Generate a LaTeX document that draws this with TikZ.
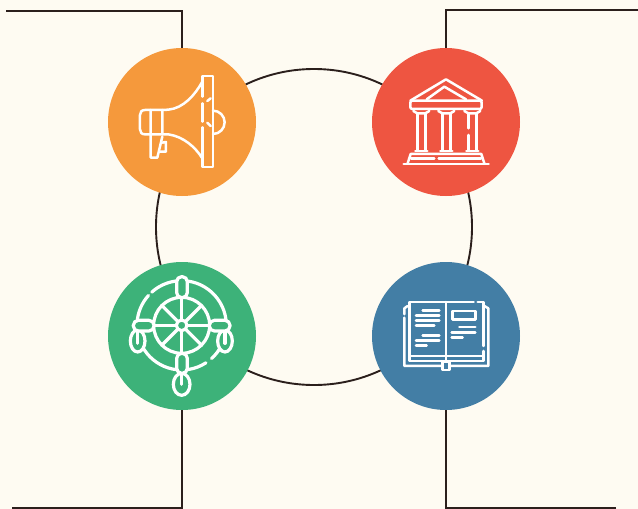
\documentclass[tikz,border=0pt]{standalone}
\usetikzlibrary{calc}
\definecolor{bg}{HTML}{FEFBF2}
\definecolor{ink}{HTML}{2B1F1C}
\definecolor{cOrange}{HTML}{F5993C}
\definecolor{cRed}{HTML}{EE5541}
\definecolor{cGreen}{HTML}{3DB279}
\definecolor{cBlue}{HTML}{437EA5}
\tikzset{
  wire/.style={draw=ink,line width=1.9pt,line join=miter},
  disc/.style={circle,inner sep=0pt,minimum size=148pt,draw=none},
  ringnode/.style={circle,inner sep=0pt,minimum size=316pt,draw=ink,line width=1.9pt},
  icon/.style={draw=white,line width=2.5pt,line cap=round,line join=round},
  iconbold/.style={draw=white,line width=3.2pt,line cap=round,line join=round},
  iconbox/.style={x=0.3333pt,y=-0.3333pt}
}
\begin{document}
\begin{tikzpicture}[x=1pt,y=-1pt]
\fill[bg] (0,0) rectangle (638,509);
\useasboundingbox (0,0) rectangle (638,509);
\node[ringnode] (ring) at (314,227) {};
\coordinate (tlend) at (6,11);
\coordinate (trend) at (638,10);
\coordinate (blend) at (12,508);
\coordinate (brend) at (616,508);
\node[disc,fill=cOrange] (orange) at (182,122) {};
\node[disc,fill=cRed] (red) at (446,122) {};
\node[disc,fill=cGreen] (green) at (182,336) {};
\node[disc,fill=cBlue] (blue) at (446,336) {};
\draw[wire] (tlend) -| (orange);
\draw[wire] (trend) -| (red);
\draw[wire] (blend) -| (green);
\draw[wire] (brend) -| (blue);
% megaphone
\begin{scope}[shift={(100,40)},iconbox]
\draw[icon] (187,210) -- (135,210) .. controls (125,210) and (120,216) .. (120,225) -- (120,268) .. controls (120,277) and (125,283) .. (135,283) -- (187,283) -- cycle;
\draw[icon] (152,210) -- (152,353) -- (172,353) -- (187,290);
\draw[icon] (187,308) -- (198,306) -- (198,335) -- (178,335);
\draw[icon] (187,210) -- (205,209) .. controls (250,205) and (285,165) .. (307,125);
\draw[icon] (187,283) -- (205,283) .. controls (250,290) and (285,320) .. (307,355);
\draw[icon] (307,170) -- (307,108) -- (339,108) -- (339,381) -- (307,381) -- (307,262);
\draw[icon] (307,190) -- (307,245);
\draw[icon] (322,183) -- (332,175);
\draw[icon] (322,248) -- (332,258);
\draw[icon] (339,212) arc[start angle=-90,end angle=90,radius=35];
\end{scope}
% temple
\begin{scope}[shift={(366,40)},iconbox]
\draw[icon] (133,182) -- (240,118) -- (348,182);
\draw[icon] (182,178) -- (235,140) -- (300,178);
\draw[icon,rounded corners=2pt] (133,182) rectangle (347,207);
\foreach \cx in {166,241,319}{
  \draw[icon] (\cx-24,213) -- (\cx-12,220) -- (\cx+12,220) -- (\cx+24,213);
  \draw[icon] (\cx+12,220) -- (\cx+12,330);
  \draw[icon] (\cx-18,333) -- (\cx+18,333);
}
\draw[icon] (154,220) -- (154,330);
\draw[icon] (229,220) -- (229,330);
\draw[icon] (307,220) -- (307,265);
\draw[icon] (307,285) -- (307,330);
\draw[icon] (125,370) -- (134,342) -- (346,342) -- (355,370);
\draw[icon] (135,355) -- (205,355);
\draw[icon] (218,355) -- (345,355);
\draw[icon] (113,372) -- (368,372);
\end{scope}
% wheel
\begin{scope}[shift={(100,256)},iconbox]
\draw[iconbold] (245,208) circle[radius=16];
\draw[iconbold] (245,208) circle[radius=84];
\foreach \a in {0,45,...,315}{
  \draw[iconbold] ($(245,208)+(\a:16)$) -- ($(245,208)+(\a:84)$);
}
\draw[iconbold] (245,208) ++(-132:134) arc[start angle=-132,end angle=48,radius=134];
\draw[iconbold] (245,208) ++(57:134) arc[start angle=57,end angle=222,radius=134];
\draw[iconbold,fill=cGreen] (113,255) ellipse[x radius=22,y radius=33];
\draw[iconbold,fill=cGreen] (375,255) ellipse[x radius=22,y radius=33];
\draw[iconbold,fill=cGreen] (245,385) ellipse[x radius=25,y radius=33];
\draw[iconbold] (113,228) -- (113,262);
\draw[iconbold] (375,228) -- (375,262);
\draw[iconbold] (245,355) -- (245,385);
\draw[iconbold,fill=cGreen,rounded corners=5pt] (230,62) rectangle (262,125);
\draw[iconbold,fill=cGreen,rounded corners=5pt] (230,292) rectangle (262,352);
\draw[iconbold,fill=cGreen,rounded corners=5pt] (100,193) rectangle (162,225);
\draw[iconbold,fill=cGreen,rounded corners=5pt] (328,193) rectangle (390,225);
\end{scope}
% book
\begin{scope}[shift={(366,256)},iconbox]
\draw[icon] (323,138) -- (130,138) -- (130,315) -- (352,315) -- (352,285);
\draw[icon] (335,138) -- (352,138) -- (352,270);
\draw[icon] (130,300) -- (352,300);
\draw[icon] (240,138) -- (240,315);
\draw[icon] (125,150) -- (115,157) -- (115,175);
\draw[icon] (115,185) -- (115,330) -- (367,330) -- (367,157) -- (355,150);
\draw[icon,fill=cBlue] (230,318) rectangle (250,342);
\draw[icon] (170,163) -- (220,163);
\draw[icon] (150,178) -- (220,178);
\draw[icon] (150,193) -- (220,193);
\draw[icon] (150,209) -- (205,209);
\draw[icon] (170,239) -- (220,239);
\draw[icon] (150,254) -- (220,254);
\draw[icon] (150,269) -- (182,269);
\draw[icon] (260,165) rectangle (328,191);
\draw[icon] (280,213) -- (328,213);
\draw[icon] (257,229) -- (328,229);
\draw[icon] (257,245) -- (290,245);
\end{scope}
\end{tikzpicture}
\end{document}
